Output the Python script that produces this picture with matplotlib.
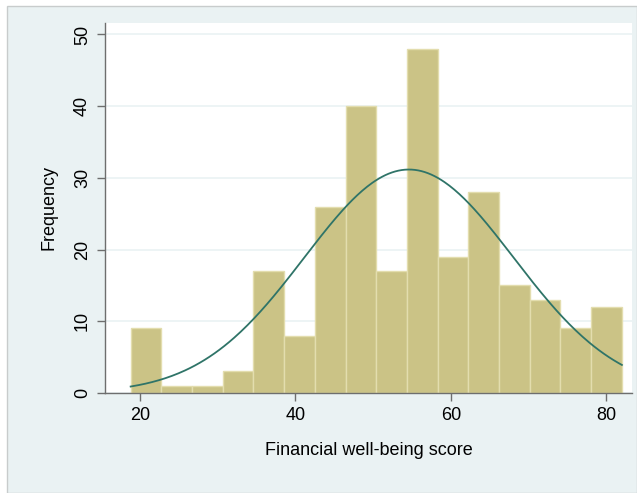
import numpy as np
import matplotlib.pyplot as plt

plt.rcParams['font.family'] = ['Liberation Sans', 'DejaVu Sans']

# histogram data
bin_start = 18.8
bin_width = 3.95
counts = [9, 1, 1, 3, 17, 8, 26, 40, 17, 48, 19, 28, 15, 13, 9, 12]
# fitted normal curve parameters
mean_score = 54.6
sd_score = 13.45

xticks = [20, 40, 60, 80]
yticks = [0, 10, 20, 30, 40, 50]

bg = '#EAF2F3'
bar_col = '#CBC386'
edge_col = '#E3DDAE'
line_col = '#2F7468'

fig = plt.figure(figsize=(6.37, 4.93), dpi=100)
fig.patch.set_facecolor('white')
# outer graph region
outer = plt.Rectangle((7 / 637, 0), 1 - 7 / 637, 1 - 6 / 493, transform=fig.transFigure,
                      facecolor=bg, edgecolor='#C8CCCC', linewidth=1, zorder=-10)
fig.patches.append(outer)

ax = fig.add_axes([105 / 637, 100 / 493, 527 / 637, 370 / 493])
ax.set_zorder(1)
ax.set_facecolor('white')

n = len(counts)
lefts = bin_start + bin_width * np.arange(n)
ax.bar(lefts, counts, width=bin_width, align='edge', color=bar_col,
       edgecolor=edge_col, linewidth=1.0, zorder=2)

xs = np.linspace(bin_start, bin_start + n * bin_width, 300)
total = sum(counts)
ys = total * bin_width / (sd_score * np.sqrt(2 * np.pi)) * np.exp(-0.5 * ((xs - mean_score) / sd_score) ** 2)
ax.plot(xs, ys, color=line_col, linewidth=1.3, zorder=3)

ax.set_xlim(15.5, 83.3)
ax.set_ylim(0, 51.6)
ax.set_xticks(xticks)
ax.set_yticks(yticks)
ax.set_yticklabels([str(t) for t in yticks], rotation=90, va='center')
ax.grid(axis='y', color=bg, linewidth=1.2, zorder=1)
ax.set_axisbelow(True)

for s in ['top', 'right']:
    ax.spines[s].set_visible(False)
for s in ['left', 'bottom']:
    ax.spines[s].set_color('#6E6E6E')
    ax.spines[s].set_linewidth(1.0)
ax.tick_params(axis='both', length=6, width=1, color='#6E6E6E', labelsize=13, pad=4)

ax.set_xlabel('Financial well-being score', fontsize=13, labelpad=13)
ax.set_ylabel('Frequency', fontsize=13, labelpad=12)

fig.savefig('out.png', dpi=100)
